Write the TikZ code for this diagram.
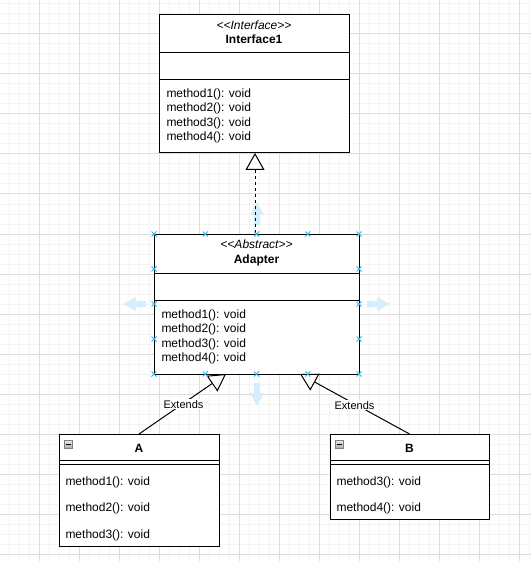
\documentclass[tikz,border=0pt]{standalone}
\usepackage{fontspec}
\setmainfont{Liberation Sans}
\usetikzlibrary{arrows.meta,calc}
\definecolor{gridminor}{HTML}{F4F4F4}
\definecolor{gridmajor}{HTML}{DDDDDD}
\definecolor{handle}{HTML}{29B6F2}
\definecolor{hoverarrow}{HTML}{D4EEFB}
\definecolor{icontop}{HTML}{E6E6E6}
\definecolor{iconbot}{HTML}{A8A8A8}
\begin{document}
\begin{tikzpicture}[x=1pt,y=-1pt,line width=1pt,
  umlbox/.style={draw=black,fill=white,line width=1pt,inner sep=0pt,outer sep=0pt,anchor=north west},
  txt/.style={inner sep=0pt,anchor=base west,font=\fontsize{12}{14}\selectfont},
  ttl/.style={inner sep=0pt,anchor=base,font=\fontsize{12}{14}\selectfont\bfseries},
  stereo/.style={inner sep=0pt,anchor=base,font=\fontsize{12}{14}\selectfont\itshape},
  lbl/.style={fill=white,inner sep=1pt,anchor=base,font=\fontsize{11}{13}\selectfont},
  ext/.style={draw=black,line width=1pt,{Triangle[open,length=17pt,width=19pt]}-},
  hoverarr/.pic={\fill[hoverarrow] (-3,0) -- (-3,-10) -- (-7,-10) -- (0,-23) -- (7,-10) -- (3,-10) -- (3,0) -- cycle;},
  handlex/.pic={\draw[handle,line width=1pt] (-2.5,-2.5) -- (2.5,2.5) (-2.5,2.5) -- (2.5,-2.5);},
  foldicon/.style={draw=gray,top color=icontop,bottom color=iconbot,line width=0.7pt,minimum size=8pt,inner sep=0pt,outer sep=0pt}]
\useasboundingbox (0,0) rectangle (531,561);
\fill[white] (0,0) rectangle (531,561);
% grid
\foreach \x in {9,19,...,529} \draw[gridminor] (\x,0) -- (\x,561);
\foreach \y in {4,14,...,554} \draw[gridminor] (0,\y) -- (531,\y);
\foreach \x in {39,79,...,519} \draw[gridmajor] (\x,0) -- (\x,561);
\foreach \y in {34,74,...,554} \draw[gridmajor] (0,\y) -- (531,\y);

% Interface1
\node[umlbox,minimum width=190pt,minimum height=138pt] (iface) at (159,15) {};
\draw ($(iface.north west)+(0,38)$) -- ($(iface.north east)+(0,38)$);
\draw ($(iface.north west)+(0,65)$) -- ($(iface.north east)+(0,65)$);
\node[stereo] (ifst) at (254,29.5) {{<}{<}Interface{>}{>}};
\node[ttl] (ifname) at (254,43.5) {Interface1};
\node[txt] (ifm1) at (166,97.3) {method1(): void};
\node[txt] (ifm2) at (166,111.8) {method2(): void};
\node[txt] (ifm3) at (166,126.3) {method3(): void};
\node[txt] (ifm4) at (166,140.8) {method4(): void};

% Adapter
\node[umlbox,minimum width=205pt,minimum height=140pt] (adapter) at (154,234) {};
\draw ($(adapter.north west)+(0,39)$) -- ($(adapter.north east)+(0,39)$);
\draw ($(adapter.north west)+(0,66)$) -- ($(adapter.north east)+(0,66)$);
\node[stereo] (adst) at (256.5,248.5) {{<}{<}Abstract{>}{>}};
\node[ttl] (adname) at (256.5,263.5) {Adapter};
\node[txt] (adm1) at (161,318.3) {method1(): void};
\node[txt] (adm2) at (161,332.5) {method2(): void};
\node[txt] (adm3) at (161,347) {method3(): void};
\node[txt] (adm4) at (161,361) {method4(): void};

% A
\node[umlbox,minimum width=160pt,minimum height=112pt] (a) at (59,434) {};
\draw ($(a.north west)+(0,26)$) -- ($(a.north east)+(0,26)$);
\draw ($(a.north west)+(0,30)$) -- ($(a.north east)+(0,30)$);
\node[foldicon] (aicon) at (68,444.5) {};
\draw[line width=1.2pt] ($(aicon.center)+(-2.5,0)$) -- ($(aicon.center)+(2.5,0)$);
\node[ttl] (aname) at (139,452.5) {A};
\node[txt] (am1) at (65,485.3) {method1(): void};
\node[txt] (am2) at (65,511.8) {method2(): void};
\node[txt] (am3) at (65,538) {method3(): void};

% B
\node[umlbox,minimum width=159pt,minimum height=85pt] (b) at (330,434) {};
\draw ($(b.north west)+(0,26)$) -- ($(b.north east)+(0,26)$);
\draw ($(b.north west)+(0,30)$) -- ($(b.north east)+(0,30)$);
\node[foldicon] (bicon) at (339,444.5) {};
\draw[line width=1.2pt] ($(bicon.center)+(-2.5,0)$) -- ($(bicon.center)+(2.5,0)$);
\node[ttl] (bname) at (409.5,452.5) {B};
\node[txt] (bm3) at (336,485.3) {method3(): void};
\node[txt] (bm4) at (336,511.8) {method4(): void};

% hover arrows
\pic at (257,225) {hoverarr};
\pic[rotate=180] at (257,383) {hoverarr};
\pic[rotate=90] at (146,304) {hoverarr};
\pic[rotate=-90] at (367,304) {hoverarr};

% realization (dashed)
\coordinate (iftip) at ($(iface.south west)+(96,0)$);
\coordinate (adtop) at ($(adapter.north west)+(101,0)$);
\draw[ext,dashed,dash pattern=on 3pt off 3pt] (iftip) -- (adtop);

% generalizations
\coordinate (ltip) at ($(adapter.south west)+(72,0)$);
\coordinate (rtip) at ($(adapter.south west)+(146,0)$);
\draw[ext] (ltip) -- (a.north);
\draw[ext] (rtip) -- (b.north);
\node[lbl] (lext) at (183.5,408) {Extends};
\node[lbl] (rext) at (354.5,409) {Extends};

% selection handles
\foreach \hx in {154,205.25,256.5,307.75,359} {
  \pic at (\hx,234) {handlex};
  \pic at (\hx,374) {handlex};
}
\foreach \hy in {269,304,339} {
  \pic at (154,\hy) {handlex};
  \pic at (359,\hy) {handlex};
}
\end{tikzpicture}
\end{document}
